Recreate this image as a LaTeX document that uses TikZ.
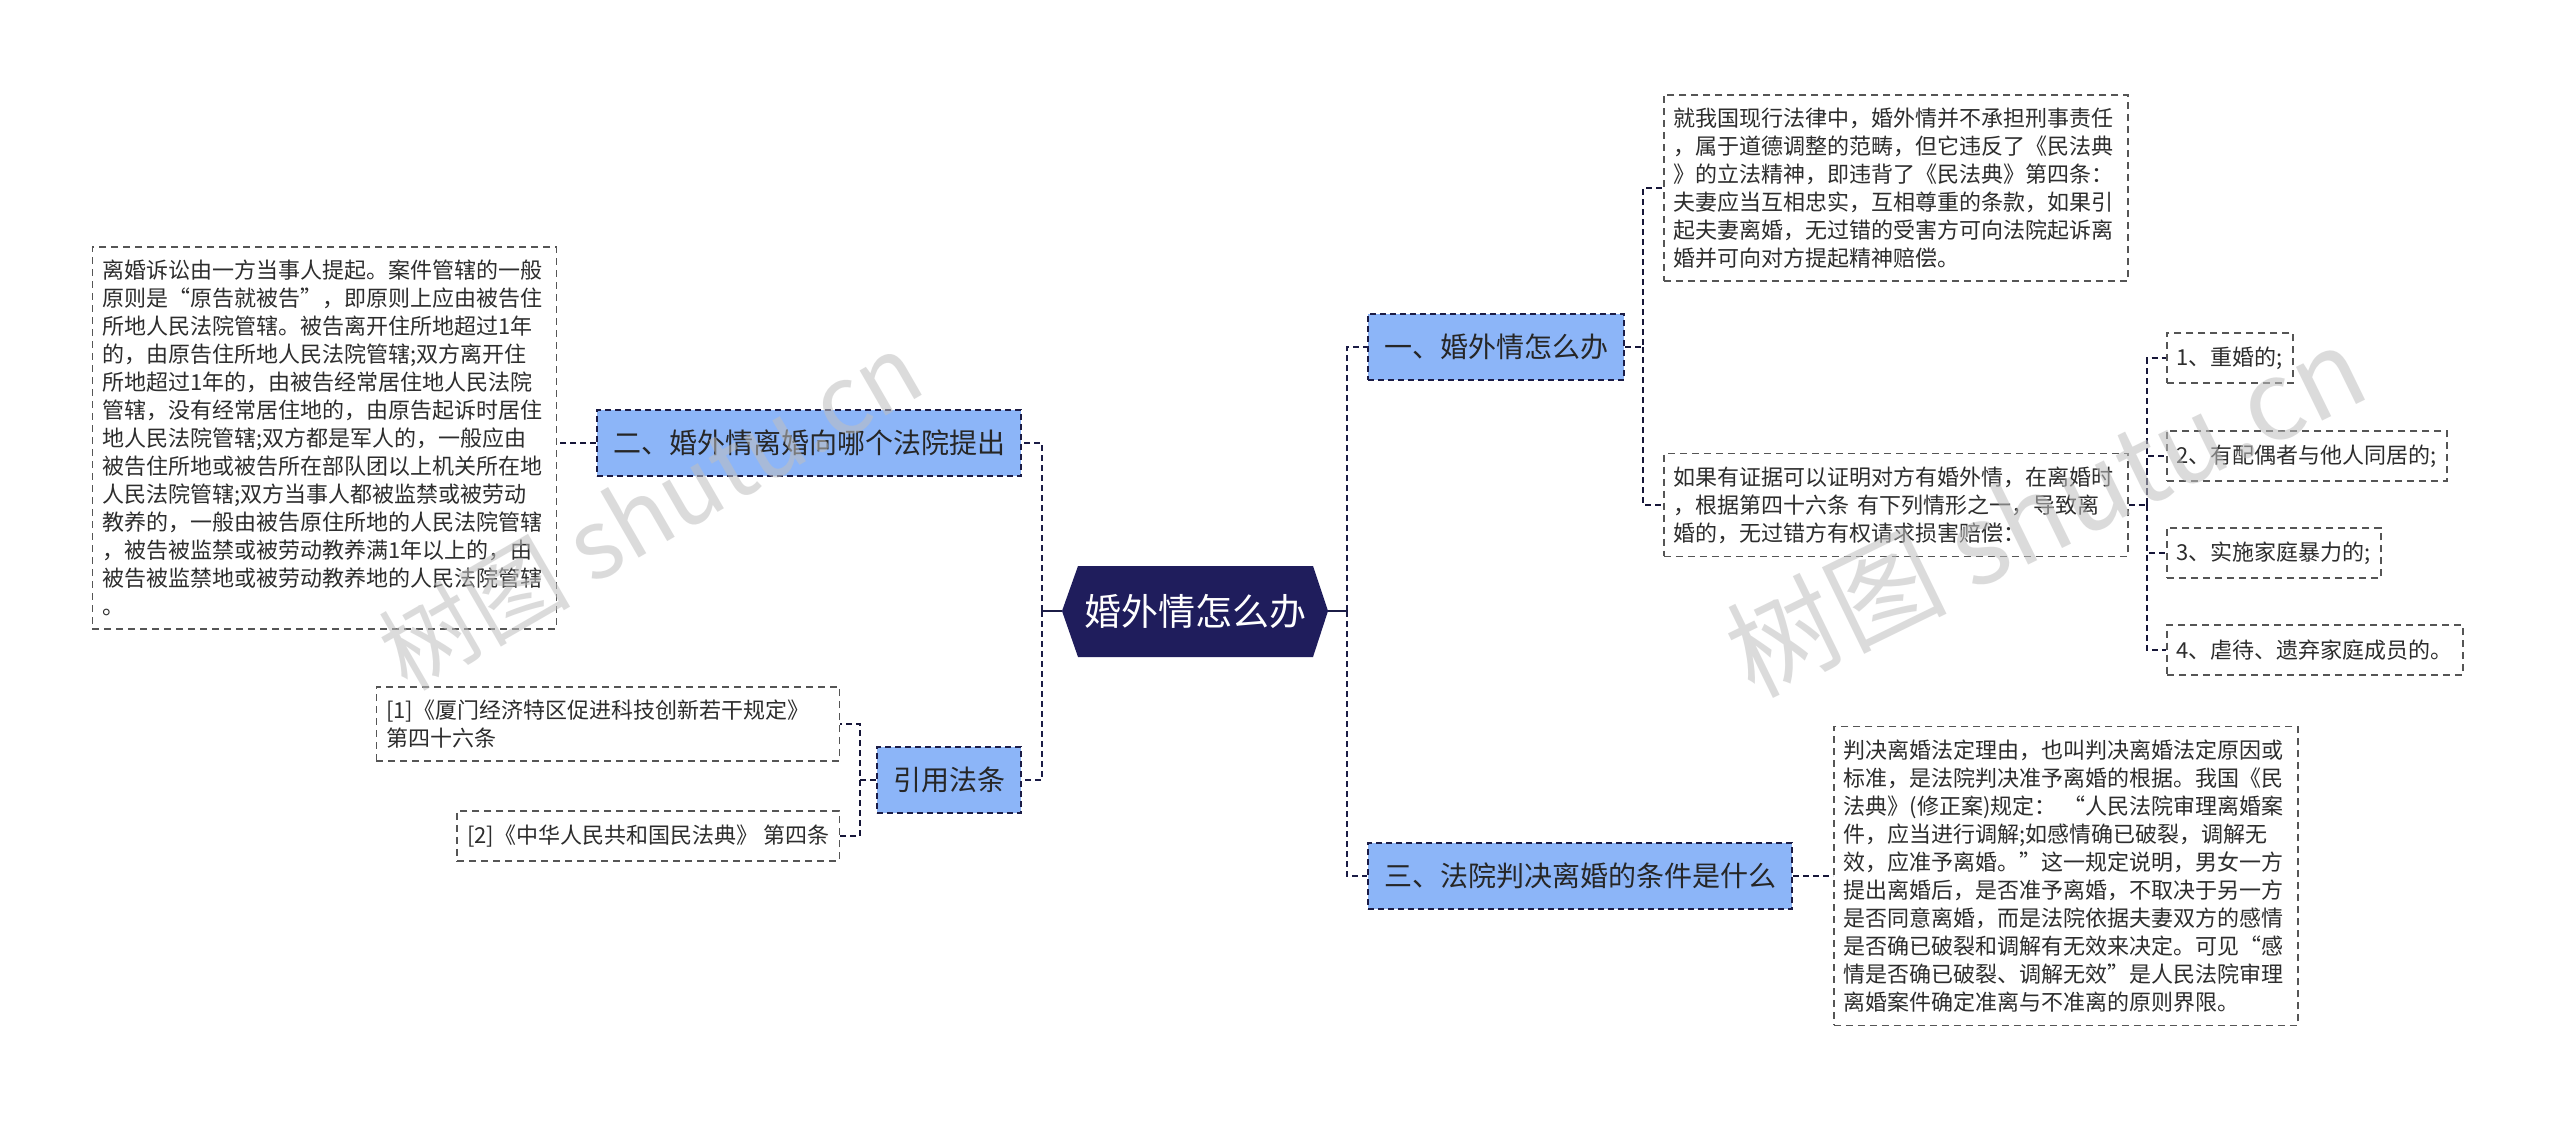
\documentclass[tikz,border=0pt]{standalone}
\usepackage{fontspec}
\setmainfont{Noto Sans CJK SC}
\definecolor{rootfill}{RGB}{31,29,92}
\definecolor{topicfill}{RGB}{140,181,248}
\definecolor{linknavy}{RGB}{27,28,70}
\definecolor{boxgray}{RGB}{85,85,85}
\definecolor{textgray}{RGB}{45,45,45}
\begin{document}
\begin{tikzpicture}[x=1pt,y=-1pt,
  topic/.style={draw=linknavy,line width=2pt,dash pattern=on 6pt off 4pt,fill=topicfill,
    text=black!85,inner xsep=16pt,inner ysep=0pt,minimum height=66pt,
    font=\fontsize{28}{34}\selectfont},
  detail/.style={draw=boxgray,line width=1.5pt,dash pattern=on 7pt off 5pt,fill=white,
    text=textgray,inner xsep=10pt,inner ysep=13pt,text width=444pt,align=left,
    font=\fontsize{22}{28}\selectfont},
  leaf/.style={draw=boxgray,line width=1.5pt,dash pattern=on 7pt off 5pt,fill=white,
    text=textgray,inner xsep=10pt,inner ysep=0pt,minimum height=50pt,align=left,
    font=\fontsize{22}{28}\selectfont},
  link/.style={draw=linknavy,line width=2.5pt,dash pattern=on 6pt off 4pt},
  sublink/.style={draw=linknavy!80!black,line width=1.5pt,dash pattern=on 6pt off 4pt},
  watermark/.style={text=gray!50,opacity=0.55,font=\fontsize{96}{96}\selectfont}]
%width=2560px
%height=1123px
\fill[white] (0,0) rectangle (2560,1123);
\useasboundingbox (0,0) rectangle (2560,1123);
% coordinates
\coordinate (rootW)  at (1062,611);
\coordinate (rootE)  at (1328,611);
\coordinate (trunkL) at (1042,611);
\coordinate (trunkR) at (1347,611);
\coordinate (forkA)  at (1643,347);
\coordinate (forkB)  at (2147,505);
\coordinate (forkC)  at ( 860,780);
% root
\fill[rootfill] (1078,566) -- (1313,566) -- (rootE) -- (1313,657) -- (1078,657) -- (rootW) -- cycle;
\node (root) at (1195,611) [text=white,font=\fontsize{37}{44}\selectfont] {婚外情怎么办};
% main topics
\node[topic,anchor=west] (marry)  at (1367,347) {一、婚外情怎么办};
\node[topic,anchor=east] (court)  at (1022,443) {二、婚外情离婚向哪个法院提出};
\node[topic,anchor=west] (judge)  at (1367,876) {三、法院判决离婚的条件是什么};
\node[topic,anchor=east] (cite)   at (1022,780) {引用法条};
% details
\node[detail,anchor=west] (law) at (1663,188) {就我国现行法律中，婚外情并不承担刑事责任\\，属于道德调整的范畴，但它违反了《民法典\\》的立法精神，即违背了《民法典》第四条：\\夫妻应当互相忠实，互相尊重的条款，如果引\\起夫妻离婚，无过错的受害方可向法院起诉离\\婚并可向对方提起精神赔偿。};
\node[detail,anchor=west] (proof) at (1663,505) {如果有证据可以证明对方有婚外情，在离婚时\\，根据第四十六条 有下列情形之一，导致离\\婚的，无过错方有权请求损害赔偿：};
\node[leaf,anchor=west] (caseA) at (2166,358) {1、重婚的;};
\node[leaf,anchor=west] (caseB) at (2166,456) {2、有配偶者与他人同居的;};
\node[leaf,anchor=west] (caseC) at (2166,553) {3、实施家庭暴力的;};
\node[leaf,anchor=west] (caseD) at (2166,650) {4、虐待、遗弃家庭成员的。};
\node[detail,anchor=west] (rule) at (1833,876) {判决离婚法定理由，也叫判决离婚法定原因或\\标准，是法院判决准予离婚的根据。我国《民\\法典》(修正案)规定： “人民法院审理离婚案\\件，应当进行调解;如感情确已破裂，调解无\\效，应准予离婚。”这一规定说明，男女一方\\提出离婚后，是否准予离婚，不取决于另一方\\是否同意离婚，而是法院依据夫妻双方的感情\\是否确已破裂和调解有无效来决定。可见“感\\情是否确已破裂、调解无效”是人民法院审理\\离婚案件确定准离与不准离的原则界限。};
\node[detail,anchor=east] (venue) at (557,438) {离婚诉讼由一方当事人提起。案件管辖的一般\\原则是“原告就被告”，即原则上应由被告住\\所地人民法院管辖。被告离开住所地超过1年\\的，由原告住所地人民法院管辖;双方离开住\\所地超过1年的，由被告经常居住地人民法院\\管辖，没有经常居住地的，由原告起诉时居住\\地人民法院管辖;双方都是军人的，一般应由\\被告住所地或被告所在部队团以上机关所在地\\人民法院管辖;双方当事人都被监禁或被劳动\\教养的，一般由被告原住所地的人民法院管辖\\，被告被监禁或被劳动教养满1年以上的，由\\被告被监禁地或被劳动教养地的人民法院管辖\\。};
\node[detail,anchor=east,text width=443pt] (refA) at (840,724) {[1]《厦门经济特区促进科技创新若干规定》\\第四十六条};
\node[detail,anchor=east,text width=,inner ysep=0pt,minimum height=50pt] (refB) at (840,836) {[2]《中华人民共和国民法典》 第四条};
% connectors
\draw[link,solid] (rootW) -- (trunkL);
\draw[link,solid] (rootE) -- (trunkR);
\draw[link] (trunkL) |- (court.east);
\draw[link] (trunkL) |- (cite.east);
\draw[link] (trunkR) |- (marry.west);
\draw[link] (trunkR) |- (judge.west);
\draw[sublink] (marry.east) -- (forkA) |- (law.west);
\draw[sublink] (forkA) |- (proof.west);
\draw[sublink] (proof.east) -- (forkB) |- (caseA.west);
\draw[sublink] (forkB) |- (caseB.west);
\draw[sublink] (forkB) |- (caseC.west);
\draw[sublink] (forkB) |- (caseD.west);
\draw[sublink] (judge.east) -- (rule.west);
\draw[sublink] (court.west) -- (court.west -| venue.east);
\draw[sublink] (cite.west) -- (forkC) |- (refA.east);
\draw[sublink] (forkC) |- (refB.east);
% watermarks
\node[watermark,rotate=30] (markL) at (650,510) {树图 shutu.cn};
\node[watermark,rotate=26,font=\fontsize{110}{110}\selectfont] (markR) at (2045,510) {树图 shutu.cn};
\end{tikzpicture}
\end{document}
